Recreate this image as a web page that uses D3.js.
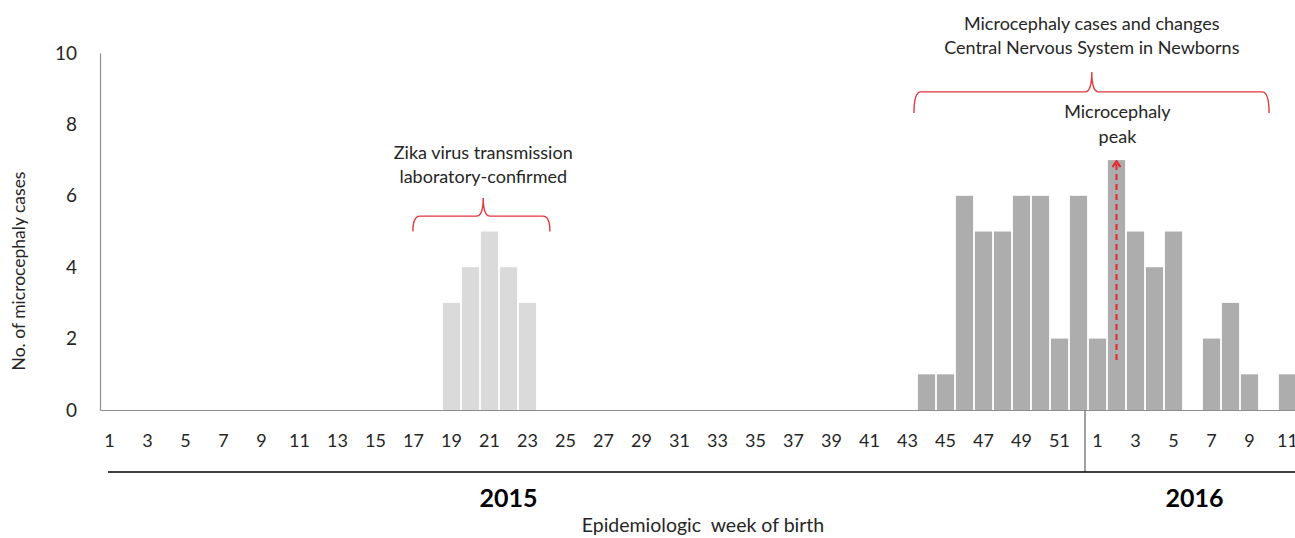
<!DOCTYPE html>
<html>
<meta charset="utf-8">
<style>
  body { margin: 0; background: #fff; }
  svg { width: 1295px; height: 538px; font-family: Lato, "Open Sans", sans-serif; }
</style>
<body>
  <svg></svg>
</body>
<script src="https://d3js.org/d3.v7.min.js"></script>
<script>

  // epidemiologic weeks: 2015 wk 1-52, then 2016 wk 1-11
  var weeks2015 = [1,2,3,4,5,6,7,8,9,10,11,12,13,14,15,16,17,18,19,20,21,22,23,24,25,26,
                   27,28,29,30,31,32,33,34,35,36,37,38,39,40,41,42,43,44,45,46,47,48,49,50,51,52];
  var weeks2016 = [1,2,3,4,5,6,7,8,9,10,11];

  // lab-confirmed zika period (light bars)
  var zikaCases = [0,0,0,0,0,0,0,0,0,0,0,0,0,0,0,0,0,0,3,4,5,4,3,0,0,0,
                   0,0,0,0,0,0,0,0,0,0,0,0,0,0,0,0,0,0,0,0,0,0,0,0,0,0,
                   0,0,0,0,0,0,0,0,0,0,0];
  // microcephaly / CNS changes (dark bars)
  var microCases = [0,0,0,0,0,0,0,0,0,0,0,0,0,0,0,0,0,0,0,0,0,0,0,0,0,0,
                    0,0,0,0,0,0,0,0,0,0,0,0,0,0,0,0,0,1,1,6,5,5,6,6,2,6,
                    2,7,5,4,5,0,2,3,1,0,1];

  var yTicks = [0, 2, 4, 6, 8, 10];
  var years = ["2015", "2016"];

  var cats = weeks2015.map(function(w) { return {id: "2015-" + w, week: w}; })
    .concat(weeks2016.map(function(w) { return {id: "2016-" + w, week: w}; }));

  var plotLeft = 100, plotRight = 1297, plotTop = 53, base = 410;

  var svg = d3.select("svg");

  var x = d3.scaleBand().domain(cats.map(function(d) { return d.id; })).range([plotLeft, plotRight]).padding(0);
  // fractional week index -> pixel (centre of band i at i)
  var xi = d3.scaleLinear().domain([-0.5, cats.length - 0.5]).range([plotLeft, plotRight]);
  var y = d3.scaleLinear().domain([0, 10]).range([base, plotTop]);

  var bw = x.bandwidth();

  function drawBars(vals, color) {
    svg.append("g").selectAll("rect")
      .data(cats.map(function(c, i) { return {id: c.id, v: vals[i]}; }).filter(function(d) { return d.v > 0; }))
      .enter().append("rect")
      .attr("x", function(d) { return x(d.id) + 0.9; })
      .attr("width", bw - 1.8)
      .attr("y", function(d) { return y(d.v); })
      .attr("height", function(d) { return base - y(d.v); })
      .attr("fill", color);
  }
  drawBars(zikaCases, "#dadada");
  drawBars(microCases, "#adadad");

  // axes
  var yAxis = d3.axisLeft(y).tickValues(yTicks).tickSize(0).tickPadding(23);
  var gy = svg.append("g").attr("transform", "translate(" + plotLeft + ",0)").call(yAxis);
  gy.select(".domain").attr("stroke", "#8e8e8e").attr("stroke-width", 1.2);
  gy.selectAll("text").attr("font-size", 19).attr("fill", "#262626").attr("font-family", "Lato, sans-serif");

  var xAxis = d3.axisBottom(x).tickSize(0).tickSizeOuter(0).tickPadding(24)
    .tickFormat(function(id) { return +id.split("-")[1]; });
  var gx = svg.append("g").attr("transform", "translate(0," + base + ")").call(xAxis);
  gx.select(".domain").attr("stroke", "#8e8e8e").attr("stroke-width", 1.2);
  gx.selectAll(".tick").filter(function(id) { return (+id.split("-")[1]) % 2 === 0; }).remove();
  gx.selectAll("text").attr("font-size", 18).attr("fill", "#262626").attr("font-family", "Lato, sans-serif");

  // year separator and year bar
  var sepX = x("2016-1") - 3;
  svg.append("line").attr("x1", sepX).attr("x2", sepX).attr("y1", base).attr("y2", 472)
    .attr("stroke", "#7f7f7f").attr("stroke-width", 1.5);
  svg.append("line").attr("x1", 108).attr("x2", 1295).attr("y1", 472).attr("y2", 472)
    .attr("stroke", "#000").attr("stroke-width", 1.5);

  svg.selectAll(".year").data(years).enter().append("text")
    .attr("x", function(d, i) { return i === 0 ? xi(21.0) : xi(57.1); })
    .attr("y", 507)
    .attr("text-anchor", "middle")
    .attr("font-size", 25).attr("font-weight", "bold").attr("fill", "#000")
    .text(function(d) { return d; });

  svg.append("text").attr("x", 703).attr("y", 532).attr("text-anchor", "middle")
    .attr("font-size", 19.5).attr("fill", "#262626").attr("xml:space", "preserve")
    .text("Epidemiologic  week of birth");

  svg.append("text").attr("transform", "translate(25,271) rotate(-90)").attr("text-anchor", "middle")
    .attr("font-size", 17.5).attr("fill", "#262626")
    .text("No. of microcephaly cases");

  // braces
  function brace(i0, i1, itip, vEnd, vLine, vTip) {
    var x0 = xi(i0), x1 = xi(i1), xt = xi(itip);
    var yE = y(vEnd), yL = y(vLine), yT = y(vTip), r = 7;
    var p = "M" + x0 + "," + yE + " Q" + x0 + "," + yL + " " + (x0 + r) + "," + yL +
      " L" + (xt - r) + "," + yL + " Q" + xt + "," + yL + " " + xt + "," + yT +
      " Q" + xt + "," + yL + " " + (xt + r) + "," + yL +
      " L" + (x1 - r) + "," + yL + " Q" + x1 + "," + yL + " " + x1 + "," + yE;
    svg.append("path").attr("d", p).attr("fill", "none").attr("stroke", "#e5353d").attr("stroke-width", 1.4);
  }
  brace(15.97, 23.18, 19.67, 5.0, 5.43, 5.94);
  brace(42.34, 61.03, 51.7, 8.32, 8.91, 9.47);

  function label(lines, cx, y0, lh) {
    var t = svg.append("text").attr("text-anchor", "middle").attr("font-size", 18).attr("fill", "#262626");
    lines.forEach(function(s, k) {
      t.append("tspan").attr("x", cx).attr("y", y0 + k * lh).text(s);
    });
  }
  label(["Zika virus transmission", "laboratory-confirmed"], xi(19.67), 159, 23.5);
  label(["Microcephaly cases and changes", "Central Nervous System in Newborns"], xi(51.7), 30, 24);
  label(["Microcephaly", "peak"], xi(53.05), 118, 24.5);

  // peak arrow
  var defs = svg.append("defs");
  defs.append("marker").attr("id", "head").attr("viewBox", "0 0 10 10").attr("refX", 9).attr("refY", 5)
    .attr("markerWidth", 10).attr("markerHeight", 10).attr("markerUnits", "userSpaceOnUse").attr("orient", "auto")
    .append("path").attr("d", "M3,1 L9,5 L3,9").attr("fill", "none").attr("stroke", "#e5262e").attr("stroke-width", 2);
  var ax = x("2016-2") + bw / 2;
  svg.append("line").attr("x1", ax).attr("x2", ax).attr("y1", y(1.4)).attr("y2", y(7) + 1)
    .attr("stroke", "#e5262e").attr("stroke-width", 2).attr("stroke-dasharray", "6,4")
    .attr("marker-end", "url(#head)");

</script>
</html>
